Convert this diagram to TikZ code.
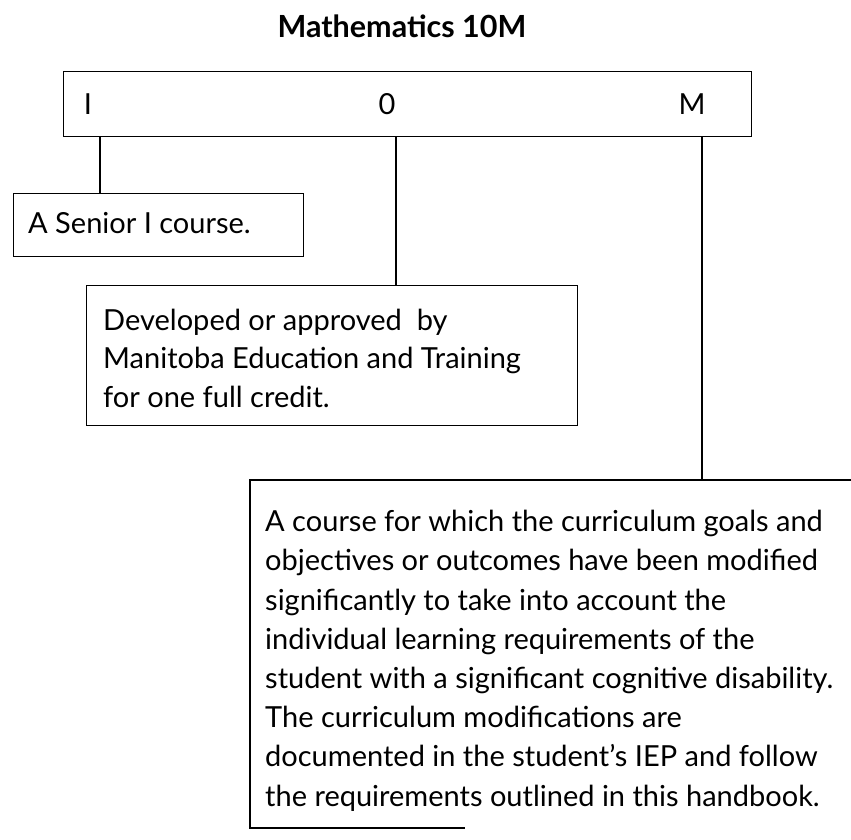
\documentclass[tikz,border=0pt]{standalone}
\usepackage{fontspec}
\setmainfont{Lato}
\newcommand{\bodyfnt}{\fontsize{29}{39.2}\selectfont}
\newcommand{\bodyfntB}{\fontsize{29}{38.5}\selectfont}
\newcommand{\titlefnt}{\fontsize{30.5}{36}\selectfont\bfseries}
\begin{document}
\begin{tikzpicture}[x=1pt,y=-1pt]
\tikzset{
  frame/.style={draw, line width=1.4pt, inner sep=0pt, anchor=north west},
  body/.style={font=\bodyfnt, align=left, inner sep=0pt, anchor=base west},
  letter/.style={font=\bodyfnt, inner sep=0pt, anchor=base},
  conn/.style={line width=1.3pt},
}
\useasboundingbox (0,0) rectangle (851,839);
% title
\node[font=\titlefnt, inner sep=0pt, anchor=base] (title) at (402,37) {Mathematics 10M};
% top box
\node[frame, minimum width=688pt, minimum height=65pt] (code) at (63,71) {};
\node[letter] (lI) at (88,114) {I};
\node[letter] (l0) at (387,114) {0};
\node[letter] (lM) at (692,114) {M};
% box A
\node[frame, minimum width=290pt, minimum height=63pt] (boxA) at (13,193) {};
\node[body] (txtA) at (28,233) {A Senior I course.};
% box B
\node[frame, minimum width=491pt, minimum height=140pt] (boxB) at (86,285) {};
\node[body, font=\bodyfntB] (txtB) at (103,407) {Developed or approved\ \ by\\
Manitoba Education and Training\\
for one full credit.};
% box C (open frame, runs off the right edge)
\coordinate (cTR) at (851,480);
\coordinate (cTL) at (250,480);
\coordinate (cBL) at (250,828);
\coordinate (cBE) at (465,828);
\draw[line width=1.4pt] (cTR) -- (cTL) -- (cBL) -- (cBE);
\node[body] (txtC) at (265,806) {A course for which the curriculum goals and\\
objectives or outcomes have been modified\\
significantly to take into account the\\
individual learning requirements of the\\
student with a significant cognitive disability.\\
The curriculum modifications are\\
documented in the student's IEP and follow\\
the requirements outlined in this handbook.};
% connectors
\coordinate (xI) at (100,0);
\coordinate (x0) at (396,0);
\coordinate (xM) at (702,0);
\draw[conn] (code.south -| xI) -- (boxA.north -| xI);
\draw[conn] (code.south -| x0) -- (boxB.north -| x0);
\draw[conn] (code.south -| xM) -- (cTL -| xM);
\end{tikzpicture}
\end{document}
